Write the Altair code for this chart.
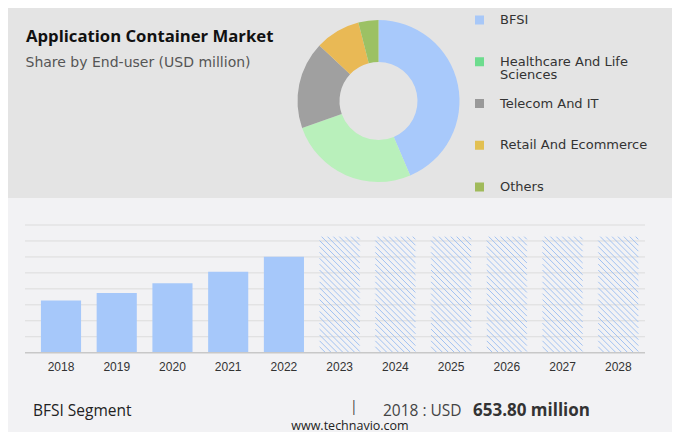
import math
import altair as alt
import pandas as pd

# ---------------- data ----------------
title_text = "Application Container Market"
subtitle_text = "Share by End-user (USD million)"

segments = ["BFSI", "Healthcare And Life Sciences", "Telecom And IT",
            "Retail And Ecommerce", "Others"]
legend_labels = ["BFSI", "Healthcare And Life\nSciences", "Telecom And IT",
                 "Retail And Ecommerce", "Others"]
shares = [43.6, 26.0, 17.4, 9.0, 4.0]
slice_colors = ["#a8c9fb", "#b9f0bb", "#a0a0a0", "#e9b955", "#9cc164"]
legend_colors = ["#a8c8f8", "#6ddc8e", "#999999", "#e2c052", "#a0ba5a"]

years_actual = ["2018", "2019", "2020", "2021", "2022"]
bfsi_values = [653.8, 748, 869, 1015, 1203]
years_forecast = ["2023", "2024", "2025", "2026", "2027", "2028"]
forecast_heights = [1454, 1454, 1454, 1454, 1454, 1454]
grid_values = [200, 400, 600, 800, 1000, 1200, 1400, 1600]

footer_segment = "BFSI Segment"
footer_unit = "USD"
website = "www.technavio.com"

# ---------------- layout (chart coordinates) ----------------
W, H = 664, 424
Y_BASE, Y_TOP, Y_MAX = 344.7, 217.0, 1600
STEP = 55.73
X_START = 53.0 - STEP / 2
years_all = years_actual + years_forecast
X_END = X_START + STEP * len(years_all)
PAD_IN = 0.28

xscale = alt.Scale(domain=years_all, range=[X_START, X_END],
                   paddingInner=PAD_IN, paddingOuter=PAD_IN / 2)
xlin = alt.Scale(domain=[0, len(years_all)], range=[X_START, X_END],
                 nice=False, zero=False)
yscale = alt.Scale(domain=[0, Y_MAX], range=[Y_BASE, Y_TOP])

# hatch lines for forecast bars (45 degree "\" stripes), in data units
HATCH_GAP = 5.9
HATCH_PHASE = 2.0
bw = (1 - PAD_IN) * STEP
px_per_unit = (Y_BASE - Y_TOP) / Y_MAX
idx = {y: i for i, y in enumerate(years_all)}
hatch_rows = []
for yr, h in zip(years_forecast, forecast_heights):
    bh = h * px_per_unit
    left = idx[yr] + PAD_IN / 2
    k_min = math.ceil((-bh - HATCH_PHASE) / HATCH_GAP)
    k_max = math.floor((bw - HATCH_PHASE) / HATCH_GAP)
    for k in range(k_min, k_max + 1):
        c = HATCH_PHASE + HATCH_GAP * k
        xs, ys = (c, 0.0) if c >= 0 else (0.0, -c)
        xe, ye = (c + bh, bh) if c + bh <= bw else (bw, bw - c)
        hatch_rows.append({"x": left + xs / STEP, "x2": left + xe / STEP,
                           "y": h - ys / px_per_unit, "y2": h - ye / px_per_unit})
hatch_df = pd.DataFrame(hatch_rows)

one = pd.DataFrame({"k": [0]})

# ---------------- layers ----------------
top_bg = alt.Chart(one).mark_rect(color="#e4e4e4").encode(
    x=alt.value(0), x2=alt.value(W), y=alt.value(0), y2=alt.value(190))

title = alt.Chart(pd.DataFrame({"t": [title_text]})).mark_text(
    align="left", baseline="alphabetic", font="Open Sans", fontWeight="bold",
    fontSize=16.7, color="#111111").encode(
    x=alt.value(18), y=alt.value(33.7), text="t:N")

subtitle = alt.Chart(pd.DataFrame({"t": [subtitle_text]})).mark_text(
    align="left", baseline="alphabetic", font="DejaVu Sans",
    fontSize=14, color="#555555").encode(
    x=alt.value(17.5), y=alt.value(58.5), text="t:N")

donut_df = pd.DataFrame({"segment": segments, "share": shares,
                         "order": list(range(len(segments)))})
donut = alt.Chart(donut_df).mark_arc(innerRadius=39, outerRadius=81).encode(
    theta=alt.Theta("share:Q", stack=True),
    order=alt.Order("order:Q"),
    color=alt.Color("segment:N", scale=alt.Scale(domain=segments, range=slice_colors),
                    legend=None),
    x=alt.value(370.5), y=alt.value(93))

leg_df = pd.DataFrame({"segment": segments, "label": legend_labels})
yleg = alt.Scale(domain=segments, range=[12, 179], padding=0)
leg_sq = alt.Chart(leg_df).mark_square(size=81, opacity=1).encode(
    x=alt.value(471.5),
    y=alt.Y("segment:N", scale=yleg, axis=None),
    color=alt.Color("segment:N", scale=alt.Scale(domain=segments, range=legend_colors),
                    legend=None))
leg_txt = alt.Chart(leg_df).mark_text(
    align="left", baseline="top", dy=-6, lineBreak="\n", lineHeight=13,
    font="DejaVu Sans", fontSize=13, color="#333333").encode(
    x=alt.value(492),
    y=alt.Y("segment:N", scale=yleg, axis=None),
    text="label:N")

grid = alt.Chart(pd.DataFrame({"v": grid_values})).mark_rule(
    color="#dcdcdc", strokeWidth=1).encode(
    x=alt.value(17), x2=alt.value(637),
    y=alt.Y("v:Q", scale=yscale, axis=None))

bars = alt.Chart(pd.DataFrame({"year": years_actual, "value": bfsi_values})).mark_bar(
    color="#a6c8fa").encode(
    x=alt.X("year:N", scale=xscale, axis=None),
    y=alt.Y("value:Q", scale=yscale, axis=None))

hatch = alt.Chart(hatch_df).mark_rule(color="#a2c2f2", strokeWidth=1).encode(
    x=alt.X("x:Q", scale=xlin, axis=None), x2="x2:Q",
    y=alt.Y("y:Q", scale=yscale, axis=None), y2="y2:Q")

base = alt.Chart(pd.DataFrame({"v": [0]})).mark_rule(
    color="#c8c8c8", strokeWidth=1.5).encode(
    x=alt.value(17), x2=alt.value(637),
    y=alt.Y("v:Q", scale=yscale, axis=None))

year_lbl = alt.Chart(pd.DataFrame({"year": years_all})).mark_text(
    font="Liberation Sans", fontSize=12, color="#333333", baseline="middle").encode(
    x=alt.X("year:N", scale=xscale, axis=None),
    y=alt.value(358.7), text="year:N")

foot1 = alt.Chart(pd.DataFrame({"t": [footer_segment]})).mark_text(
    align="left", baseline="middle", font="Open Sans", fontSize=15.5,
    color="#222222").encode(x=alt.value(25), y=alt.value(403), text="t:N")
foot_bar = alt.Chart(pd.DataFrame({"t": ["|"]})).mark_text(
    align="left", baseline="middle", font="Open Sans", fontSize=14,
    color="#444444").encode(x=alt.value(342), y=alt.value(398.5), text="t:N")
foot2 = alt.Chart(pd.DataFrame({"t": [f"{years_actual[0]} : {footer_unit}"]})).mark_text(
    align="left", baseline="middle", font="Open Sans", fontSize=15.5,
    color="#444444").encode(x=alt.value(375), y=alt.value(403), text="t:N")
foot3 = alt.Chart(pd.DataFrame({"t": [f"{bfsi_values[0]:.2f} million"]})).mark_text(
    align="left", baseline="middle", font="Open Sans", fontSize=17, fontWeight="bold",
    color="#333333").encode(x=alt.value(465), y=alt.value(403), text="t:N")
foot4 = alt.Chart(pd.DataFrame({"t": [website]})).mark_text(
    align="center", baseline="middle", font="Open Sans", fontSize=12.5,
    color="#222222").encode(x=alt.value(342), y=alt.value(417.5), text="t:N")

chart = alt.layer(
    top_bg, title, subtitle, donut, leg_sq, leg_txt,
    grid, bars, hatch, base, year_lbl,
    foot1, foot_bar, foot2, foot3, foot4
).resolve_scale(
    x="independent", y="independent", color="independent"
).properties(
    width=W, height=H, padding=0,
    autosize=alt.AutoSizeParams(type="none"),
    background="#f2f2f4"
).configure_view(stroke=None)

chart.save("out.html", embed_options={"renderer": "svg", "actions": False})
